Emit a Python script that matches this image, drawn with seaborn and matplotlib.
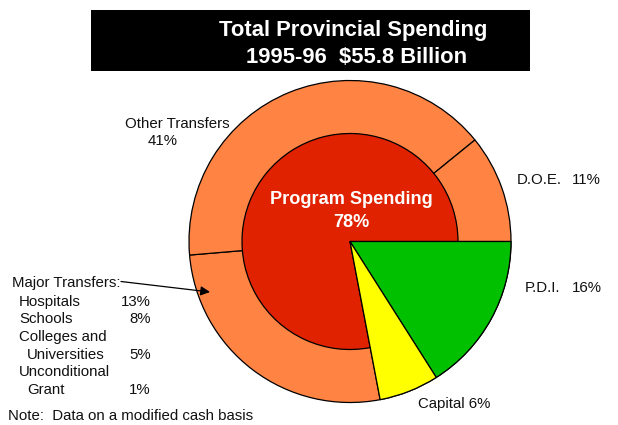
import matplotlib
matplotlib.use("Agg")
import matplotlib.pyplot as plt
from matplotlib.patches import Rectangle
import seaborn as sns

sns.set_theme(style="white")
plt.rcParams["font.family"] = ["Liberation Sans", "DejaVu Sans"]

# Spending shares (% of total provincial spending)
pdi_share = 16
capital_share = 6
program_share = 78
transfer_names = ["Major Transfers", "Other Transfers", "D.O.E."]
transfer_shares = [27, 41, 11]
major_names = ["Hospitals", "Schools", "Colleges and\n Universities", "Unconditional\n Grant"]
major_shares = [13, 8, 5, 1]

ORANGE = "#FF8444"
RED = "#E02200"
GREEN = "#00C000"
YELLOW = "#FFFF00"

W, H = 618, 425
fig = plt.figure(figsize=(W / 100, H / 100), dpi=100)
ax = fig.add_axes([0, 0, 1, 1])


def py(y):
    """Convert a top-down pixel row into the axes' upward y."""
    return H - y


cx, cy = 350, py(241.5)
r_out, r_in = 161, 108

# Program spending split among its transfer streams, scaled to the program share
tsum = sum(transfer_shares)
ring = [program_share * v / tsum for v in transfer_shares]

outer_sizes = [pdi_share, capital_share] + ring
outer_colors = [GREEN, YELLOW] + [ORANGE] * len(ring)
ax.pie(outer_sizes, colors=outer_colors, startangle=0, counterclock=False,
       radius=r_out, center=(cx, cy), frame=True,
       wedgeprops=dict(edgecolor="black", linewidth=0.9))

inner_wedges, _ = ax.pie([pdi_share, capital_share, program_share],
                         colors=["none", "none", RED], startangle=0,
                         counterclock=False, radius=r_in, center=(cx, cy),
                         frame=True,
                         wedgeprops=dict(edgecolor="black", linewidth=0.9))
for w in inner_wedges[:2]:
    w.set_visible(False)

# Redraw the green / yellow wedges on top so their edges run to the centre
ax.pie([pdi_share, capital_share, program_share],
       colors=[GREEN, YELLOW, "none"], startangle=0, counterclock=False,
       radius=r_out, center=(cx, cy), frame=True,
       wedgeprops=dict(edgecolor="black", linewidth=0.9))
ax.patches[-1].set_visible(False)

ax.set_xlim(0, W)
ax.set_ylim(0, H)
ax.set_aspect("equal")
ax.axis("off")

# Title block
ax.add_patch(Rectangle((91, py(71)), 439, 61, facecolor="black", edgecolor="none"))
ax.text(353, py(36), "Total Provincial Spending", color="white", fontsize=15.8,
        fontweight="bold", ha="center", va="baseline")
ax.text(357, py(63), "1995-96  $55.8 Billion", color="white", fontsize=15.8,
        fontweight="bold", ha="center", va="baseline")

# Program spending label
ax.text(351.5, py(204), "Program Spending", color="white", fontsize=13.1,
        fontweight="bold", ha="center", va="baseline")
ax.text(351.5, py(226.5), f"{program_share}%", color="white", fontsize=13.1,
        fontweight="bold", ha="center", va="baseline")

fs = 10.8
ax.text(177, py(128), transfer_names[1], fontsize=fs, ha="center", va="baseline", color="#111111")
ax.text(162.5, py(144.5), f"{transfer_shares[1]}%", fontsize=fs, ha="center", va="baseline", color="#111111")

ax.text(517, py(184), transfer_names[2], fontsize=fs, ha="left", va="baseline", color="#111111")
ax.text(572, py(184), f"{transfer_shares[2]}%", fontsize=fs, ha="left", va="baseline", color="#111111")
ax.text(525, py(292), "P.D.I.", fontsize=fs, ha="left", va="baseline", color="#111111")
ax.text(572, py(292), f"{pdi_share}%", fontsize=fs, ha="left", va="baseline", color="#111111")
ax.text(418, py(408), f"Capital {capital_share}%", fontsize=fs, ha="left", va="baseline", color="#111111")

# Major transfers breakdown
ax.text(12, py(287), "Major Transfers:", fontsize=fs, ha="left", va="baseline", color="#111111")
ax.annotate("", xy=(210, py(292)), xytext=(121, py(281.5)),
            arrowprops=dict(arrowstyle="-|>", color="black", lw=0.9,
                            mutation_scale=14, shrinkA=0, shrinkB=0))
rows = [305.7, 323.3, 359, 394]
for name, share, base in zip(major_names, major_shares, rows):
    lines = name.split("\n")
    for k, line in enumerate(lines):
        y = base - 17.8 * (len(lines) - 1 - k)
        x = 19 if not line.startswith(" ") else 27
        ax.text(x, py(y), line.strip(), fontsize=fs, ha="left", va="baseline", color="#111111")
    ax.text(151, py(base), f"{share}%", fontsize=fs, ha="right", va="baseline", color="#111111")

ax.text(8, py(419.5), "Note:  Data on a modified cash basis", fontsize=fs,
        ha="left", va="baseline", color="#111111")

fig.savefig("out.png", dpi=100, facecolor="white")
